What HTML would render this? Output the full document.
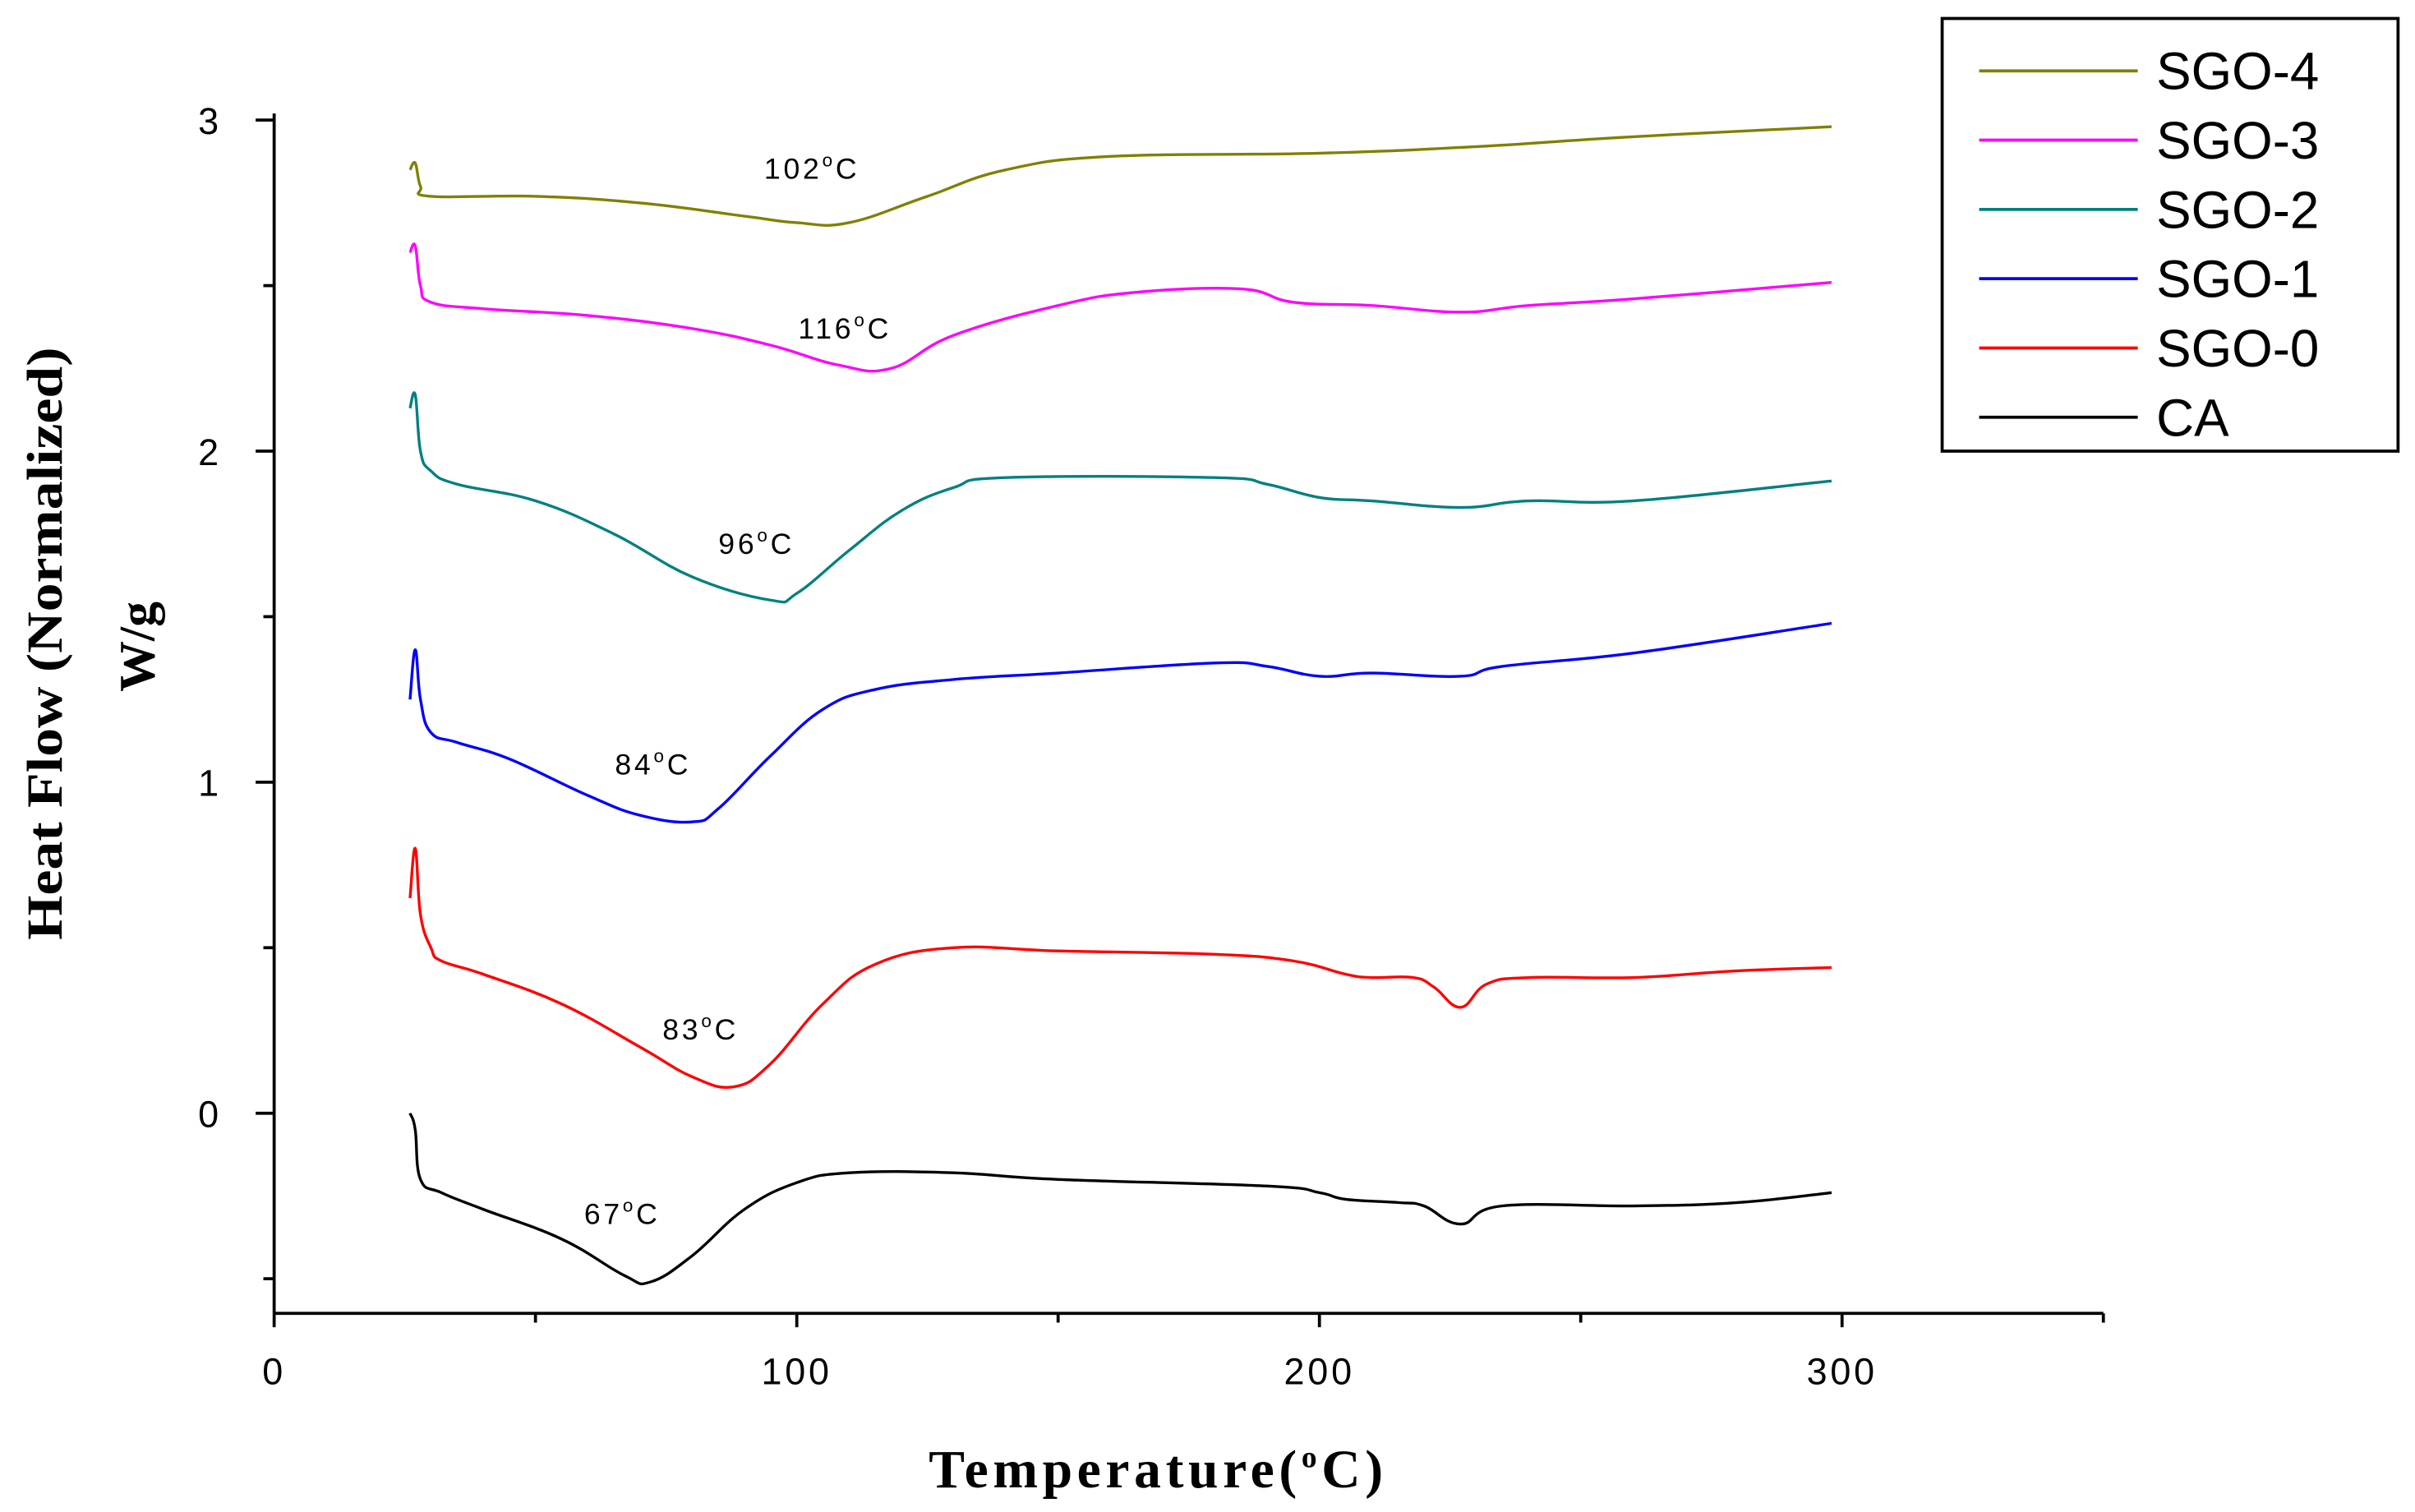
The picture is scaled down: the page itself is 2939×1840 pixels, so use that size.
<!DOCTYPE html>
<html><head><meta charset="utf-8"><style>
html,body{margin:0;padding:0;background:#fff;}
svg{display:block;}
</style></head><body>
<svg id="chart" width="2939" height="1840" viewBox="0 0 1568 982" preserveAspectRatio="none" xmlns="http://www.w3.org/2000/svg">
<rect width="1568" height="982" fill="#fff"/>
<g id="axes"></g>
<g id="series"></g>
<g id="labels"></g>
<text transform="translate(40,418) rotate(-90)" text-anchor="middle" font-family="Liberation Serif, serif" font-weight="bold" font-size="33" textLength="385" lengthAdjust="spacingAndGlyphs">Heat Flow (Normalized)</text>
<text transform="translate(100,420) rotate(-90)" text-anchor="middle" font-family="Liberation Serif, serif" font-weight="bold" font-size="33">W/g</text>
<text x="603" y="966" font-family="Liberation Serif, serif" font-weight="bold" font-size="35" letter-spacing="3">Temperature(<tspan font-size="20" dy="-13">o</tspan><tspan dy="13">C)</tspan></text>
<g>
<rect x="1261" y="12" width="296" height="281" fill="#fff" stroke="#000" stroke-width="2"/>
<g id="legendItems"></g>
</g>
</svg>
<script>
const seriesNames = ["CA","SGO-0","SGO-1","SGO-2","SGO-3","SGO-4"];
const seriesColors = ["#000000","#ff0000","#0000ff","#008080","#ff00ff","#808000"];
const caX = [26,27,28,32,40,55,67,72,80,90,100,110,130,150,190,200,205,215,220,227,235,260,280,298];
const caY = [0.0,-0.05,-0.2,-0.24,-0.29,-0.38,-0.49,-0.51,-0.43,-0.29,-0.21,-0.18,-0.18,-0.2,-0.22,-0.24,-0.26,-0.27,-0.28,-0.335,-0.28,-0.28,-0.27,-0.24];
const s0X = [26,27,28,30,32,40,55,70,80,88,95,105,115,130,150,180,195,205,210,218,222,227,232,240,260,280,298];
const s0Y = [0.65,0.8,0.6,0.5,0.46,0.42,0.33,0.2,0.11,0.08,0.15,0.33,0.45,0.5,0.49,0.48,0.46,0.42,0.41,0.41,0.38,0.32,0.39,0.41,0.41,0.43,0.44];
const s1X = [26,27,28,30,35,45,60,70,80,85,95,105,115,130,150,180,190,200,210,227,235,260,298];
const s1Y = [1.25,1.4,1.25,1.15,1.12,1.07,0.96,0.9,0.88,0.92,1.08,1.22,1.28,1.31,1.33,1.36,1.35,1.32,1.33,1.32,1.35,1.39,1.48];
const s2X = [26,27,28,30,35,50,65,80,95,100,110,120,130,140,180,190,200,210,227,240,260,298];
const s2Y = [2.13,2.17,2.0,1.94,1.9,1.85,1.75,1.62,1.55,1.57,1.7,1.82,1.89,1.92,1.92,1.9,1.86,1.85,1.83,1.85,1.85,1.91];
const s3X = [26,27,28,30,40,60,80,95,108,118,130,150,165,185,195,210,227,240,260,298];
const s3Y = [2.6,2.62,2.5,2.45,2.43,2.41,2.37,2.32,2.26,2.25,2.35,2.44,2.48,2.49,2.45,2.44,2.42,2.44,2.46,2.51];
const s4X = [26,27,28,30,50,70,90,100,110,125,140,160,200,230,260,298];
const s4Y = [2.85,2.87,2.8,2.77,2.77,2.75,2.71,2.69,2.69,2.77,2.85,2.89,2.9,2.92,2.95,2.98];
const peakLabels = ["67","83","84","96","116","102"];
const peakLabelX = [66.6,81.6,72.5,92.3,109.2,102.9];
const peakLabelY = [-0.335,0.223,1.023,1.69,2.34,2.823];
const xTicks = [0,100,200,300];
const xMinor = [50,150,250,350];
const yTicks = [0,1,2,3];
const yMinor = [-0.5,0.5,1.5,2.5];

const NS="http://www.w3.org/2000/svg";
const X0=178, XS=(1196-178)/300, Y0=723, YS=215;
const sx=v=>X0+v*XS, sy=v=>Y0-v*YS;
function mk(t,a,p){const e=document.createElementNS(NS,t);for(const k in a)e.setAttribute(k,a[k]);p.appendChild(e);return e;}
const axes=document.getElementById('axes');
const xl=mk('line',{x1:178,y1:853,x2:sx(350),y2:853,stroke:'#000','stroke-width':2},axes);


const yl=mk('line',{x1:178,y1:853,x2:178,y2:sy(3.02),stroke:'#000','stroke-width':2},axes);


xTicks.forEach(v=>{
  const t=mk('line',{x1:sx(v),y1:853,x2:sx(v),y2:862,stroke:'#000','stroke-width':2},axes);
  
  
  const l=mk('text',{x:sx(v),y:899,'text-anchor':'middle','font-family':'Liberation Sans, sans-serif','font-size':24,'letter-spacing':2},axes);
  
  
  l.textContent=v;
});
xMinor.forEach(v=>{
  const t=mk('line',{x1:sx(v),y1:853,x2:sx(v),y2:859,stroke:'#000','stroke-width':2},axes);
  
  
});
yTicks.forEach(v=>{
  const t=mk('line',{x1:166,y1:sy(v),x2:178,y2:sy(v),stroke:'#000','stroke-width':2},axes);
  
  
  const l=mk('text',{x:142,y:sy(v)+9,'text-anchor':'end','font-family':'Liberation Sans, sans-serif','font-size':24},axes);
  
  
  l.textContent=v;
});
yMinor.forEach(v=>{
  const t=mk('line',{x1:171,y1:sy(v),x2:178,y2:sy(v),stroke:'#000','stroke-width':2},axes);
  
  
});
function smooth(P){
  let d='M'+P[0][0].toFixed(1)+','+P[0][1].toFixed(1);
  for(let i=0;i<P.length-1;i++){
    const p0=P[Math.max(0,i-1)],p1=P[i],p2=P[i+1],p3=P[Math.min(P.length-1,i+2)];
    const t=0.2;
    const c1=[p1[0]+(p2[0]-p0[0])*t,p1[1]+(p2[1]-p0[1])*t];
    const c2=[p2[0]-(p3[0]-p1[0])*t,p2[1]-(p3[1]-p1[1])*t];
    d+=' C'+c1.map(v=>v.toFixed(1))+' '+c2.map(v=>v.toFixed(1))+' '+p2[0].toFixed(1)+','+p2[1].toFixed(1);
  }
  return d;
}
const xs=[caX,s0X,s1X,s2X,s3X,s4X], ys=[caY,s0Y,s1Y,s2Y,s3Y,s4Y];
const sg=document.getElementById('series');
xs.forEach((xa,i)=>{
  const P=xa.map((x,j)=>[sx(x),sy(ys[i][j])]);
  const p=mk('path',{d:smooth(P),fill:'none',stroke:seriesColors[i],'stroke-width':1.8,'stroke-linejoin':'round'},sg);
  
  
});
const lg=document.getElementById('labels');
peakLabels.forEach((t,i)=>{
  const e=mk('text',{x:sx(peakLabelX[i]),y:sy(peakLabelY[i]),'text-anchor':'middle','font-family':'Liberation Sans, sans-serif','font-size':19,'letter-spacing':2},lg);
  
  
  e.innerHTML=t+'<tspan font-size="12" dy="-8">o</tspan><tspan dy="8">C</tspan>';
});
const li=document.getElementById('legendItems');
for(let k=0;k<6;k++){
  const i=5-k, y=46+k*45;
  const l=mk('line',{x1:1285,y1:y,x2:1388,y2:y,stroke:seriesColors[i],'stroke-width':2},li);
  
  
  const t=mk('text',{x:1400,y:y+12,'font-family':'Liberation Sans, sans-serif','font-size':34},li);
  
  
  t.textContent=seriesNames[i];
}
</script>
</body></html>
